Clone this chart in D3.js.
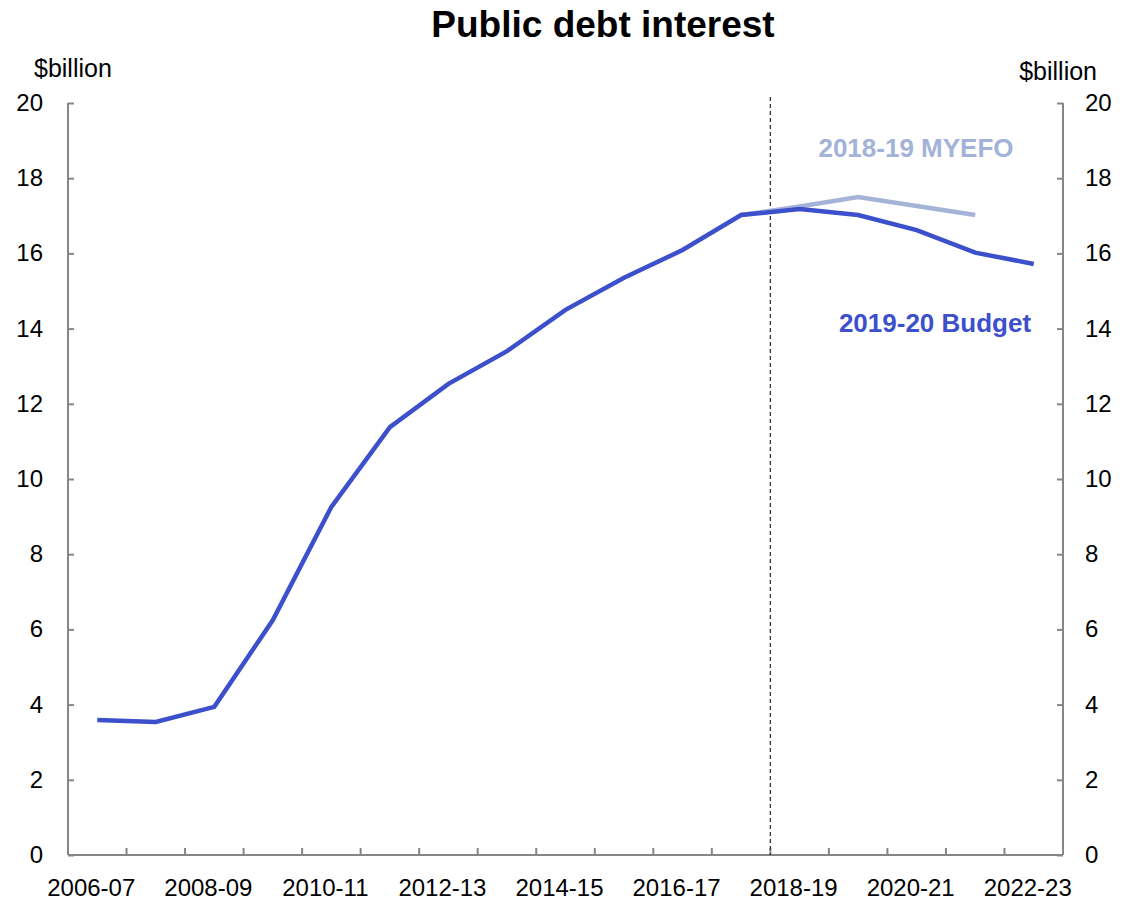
<!DOCTYPE html>
<html>
<head>
<meta charset="utf-8">
<script src="https://cdn.jsdelivr.net/npm/d3@7"></script>
<style>
  body { margin: 0; background: #fff; }
  text { font-family: Arial, "Liberation Sans", sans-serif; }
</style>
</head>
<body>
<script>
// Public debt interest, $billion
var years = ['2006-07', '2007-08', '2008-09', '2009-10', '2010-11', '2011-12', '2012-13',
  '2013-14', '2014-15', '2015-16', '2016-17', '2017-18', '2018-19', '2019-20',
  '2020-21', '2021-22', '2022-23'];
var budget = [3.59, 3.54, 3.94, 6.25, 9.26, 11.38, 12.53, 13.4, 14.5, 15.35, 16.09,
  17.02, 17.18, 17.02, 16.62, 16.02, 15.72];
var myefoYears = ['2017-18', '2018-19', '2019-20', '2020-21', '2021-22'];
var myefo = [17.02, 17.25, 17.5, 17.26, 17.02];
var yTicks = [0, 2, 4, 6, 8, 10, 12, 14, 16, 18, 20];
var xLabels = ['2006-07', '2008-09', '2010-11', '2012-13', '2014-15', '2016-17',
  '2018-19', '2020-21', '2022-23'];

var width = 1130, height = 900;
var plotL = 68, plotR = 1063, plotT = 103, plotB = 855;
var axisColor = '#868686';

var svg = d3.select('body').append('svg')
  .attr('width', width)
  .attr('height', height);

var x = d3.scaleBand().domain(years).range([plotL, plotR]);
var y = d3.scaleLinear().domain([0, 20]).range([plotB, plotT]);
var cx = function(d) { return x(d) + x.bandwidth() / 2; };

// title
svg.append('text')
  .attr('x', 603).attr('y', 37)
  .attr('text-anchor', 'middle')
  .attr('font-size', 37).attr('font-weight', 'bold')
  .text('Public debt interest');

svg.append('text').attr('x', 34).attr('y', 77).attr('font-size', 25).text('$billion');
svg.append('text').attr('x', 1097).attr('y', 80).attr('font-size', 25)
  .attr('text-anchor', 'end').text('$billion');

// y axes
var yLeft = svg.append('g')
  .attr('transform', 'translate(' + plotL + ',0)')
  .call(d3.axisRight(y).tickValues(yTicks).tickSize(6).tickFormat(''));
var yRight = svg.append('g')
  .attr('transform', 'translate(' + plotR + ',0)')
  .call(d3.axisLeft(y).tickValues(yTicks).tickSize(6).tickFormat(''));

// x axis with ticks at category boundaries
var xAxis = svg.append('g')
  .attr('transform', 'translate(0,' + plotB + ')')
  .call(d3.axisTop(x).tickSize(0).tickFormat(''));
xAxis.selectAll('.bound')
  .data(years.slice(1))
  .enter().append('line')
  .attr('x1', function(d) { return x(d); })
  .attr('x2', function(d) { return x(d); })
  .attr('y1', 0).attr('y2', -7);

[yLeft, yRight, xAxis].forEach(function(g) {
  g.select('.domain').attr('stroke', axisColor).attr('stroke-width', 2);
  g.selectAll('line').attr('stroke', axisColor).attr('stroke-width', 2);
});
yLeft.select('.domain').attr('d', 'M0,' + plotT + 'V' + plotB);
yRight.select('.domain').attr('d', 'M0,' + plotT + 'V' + plotB);
xAxis.select('.domain').attr('d', 'M' + plotL + ',0H' + plotR);

// tick labels
svg.selectAll('.ylab-l').data(yTicks).enter().append('text')
  .attr('x', 43).attr('y', function(d) { return y(d) + 8; })
  .attr('text-anchor', 'end').attr('font-size', 24)
  .text(function(d) { return d; });
svg.selectAll('.ylab-r').data(yTicks).enter().append('text')
  .attr('x', 1085).attr('y', function(d) { return y(d) + 8; })
  .attr('font-size', 24)
  .text(function(d) { return d; });
svg.selectAll('.xlab').data(xLabels).enter().append('text')
  .attr('x', function(d) { return cx(d) - 6; }).attr('y', 896)
  .attr('text-anchor', 'middle').attr('font-size', 24)
  .text(function(d) { return d; });

// dashed divider between actuals and estimates
svg.append('line')
  .attr('x1', x('2018-19')).attr('x2', x('2018-19'))
  .attr('y1', 97).attr('y2', plotB)
  .attr('stroke', '#333').attr('stroke-width', 1.3)
  .attr('stroke-dasharray', '4,3');

var line = d3.line()
  .x(function(d) { return cx(d[0]); })
  .y(function(d) { return y(d[1]); });

svg.append('path')
  .datum(d3.zip(myefoYears, myefo))
  .attr('d', line)
  .attr('fill', 'none').attr('stroke', '#A6B3D9').attr('stroke-width', 4.5);

svg.append('path')
  .datum(d3.zip(years, budget))
  .attr('d', line)
  .attr('fill', 'none').attr('stroke', '#3C50CC').attr('stroke-width', 4.5);

svg.append('text')
  .attr('x', 916).attr('y', 157)
  .attr('text-anchor', 'middle').attr('font-size', 26).attr('font-weight', 'bold')
  .attr('fill', '#A3B2D8')
  .text('2018-19 MYEFO');
svg.append('text')
  .attr('x', 935).attr('y', 332)
  .attr('text-anchor', 'middle').attr('font-size', 26).attr('font-weight', 'bold')
  .attr('fill', '#3C50CC')
  .text('2019-20 Budget');
</script>
</body>
</html>
